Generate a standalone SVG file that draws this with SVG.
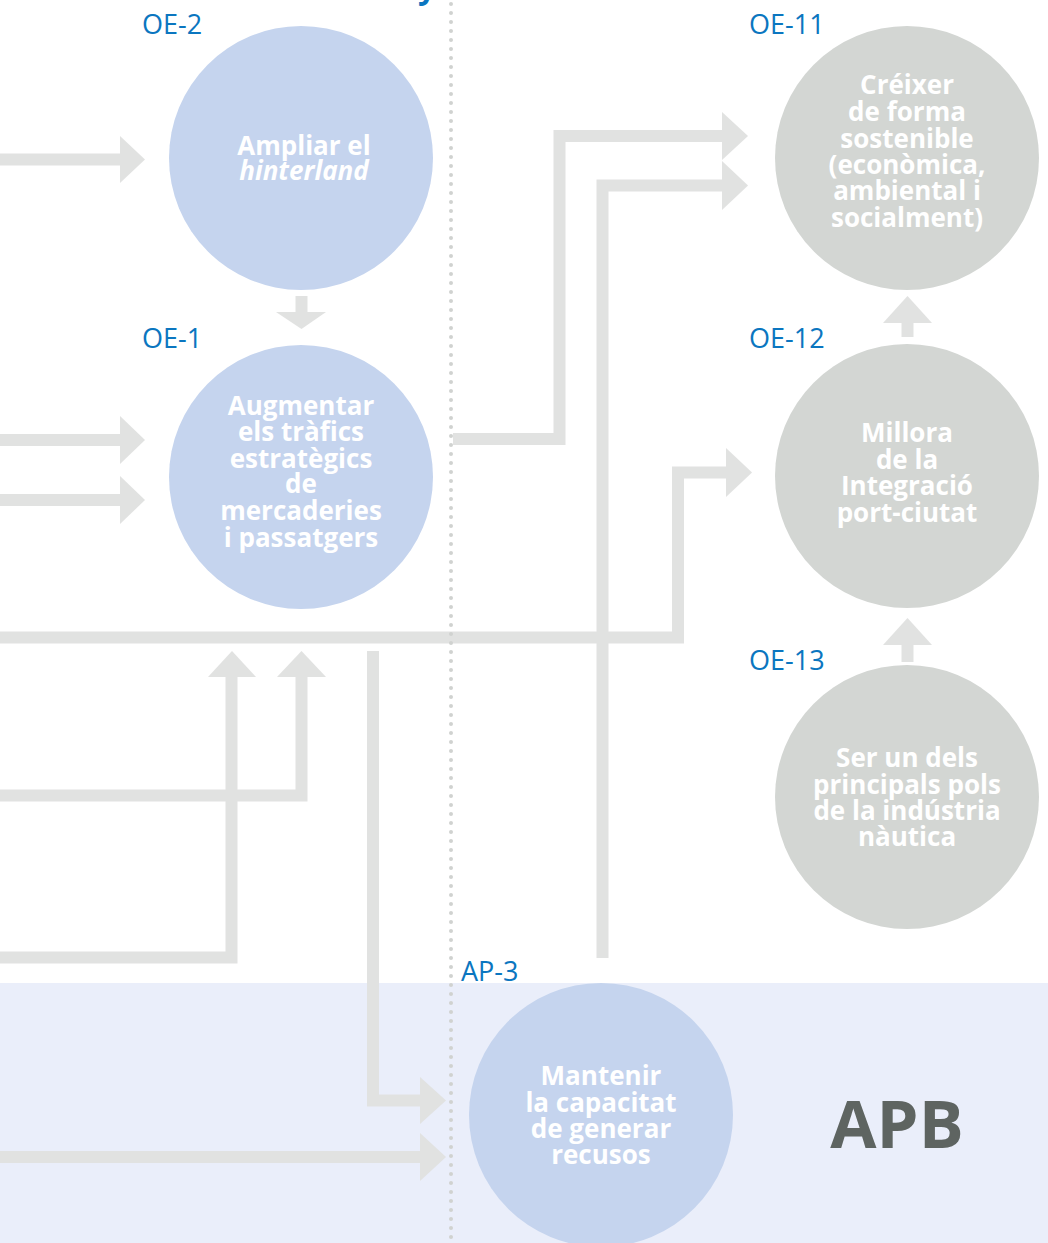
<svg xmlns="http://www.w3.org/2000/svg" width="1048" height="1243" viewBox="0 0 1048 1243">
<style>
.ln{fill:none;stroke:#e1e2e1;stroke-width:12;stroke-linejoin:miter;stroke-linecap:butt}
.hd{fill:#e1e2e1}
.cb{fill:#c5d4ee}
.cg{fill:#d3d6d3}
.lb{font-family:"Open Sans","Liberation Sans",sans-serif;font-size:27px;fill:#0b76c0}
.tx{font-family:"Open Sans","Liberation Sans",sans-serif;font-size:26px;font-weight:700;fill:#ffffff;text-anchor:middle}
.dot{fill:none;stroke:#d0d2d0;stroke-width:4;stroke-linecap:round;stroke-dasharray:0 9}
</style>
<rect x="0" y="0" width="1048" height="1243" fill="#ffffff"/>
<rect x="0" y="983" width="1048" height="260" fill="#eaeefa"/>
<text x="418" y="-2" font-family="Open Sans, Liberation Sans, sans-serif" font-size="32" font-weight="700" fill="#0b76c0">y</text>
<g id="connectors">
<polyline class="ln" points="0,159.5 121,159.5"/>
<polygon class="hd" points="120,136 145,159.5 120,183"/>
<polyline class="ln" points="0,440 121,440"/>
<polygon class="hd" points="120,416 145,440 120,464"/>
<polyline class="ln" points="0,500 121,500"/>
<polygon class="hd" points="120,476 145,500 120,524"/>
<polyline class="ln" points="301.5,296 301.5,313"/>
<polygon class="hd" points="276,312 326,312 301.5,329"/>
<polyline class="ln" points="0,795.5 301.5,795.5 301.5,676"/>
<polygon class="hd" points="277,677 301.5,651 326,677"/>
<polyline class="ln" points="0,957.5 231.5,957.5 231.5,676"/>
<polygon class="hd" points="208,677 232,651 256,677"/>
<polyline class="ln" points="0,637.5 678,637.5 678,472.5 727,472.5"/>
<polygon class="hd" points="726,448 752,472.5 726,497"/>
<polyline class="ln" points="453,439 559.5,439 559.5,136 723,136"/>
<polygon class="hd" points="722,112 748,136 722,160"/>
<polyline class="ln" points="602.5,958 602.5,185.5 723,185.5"/>
<polygon class="hd" points="722,161 748,185.5 722,210"/>
<polyline class="ln" points="373,651 373,1100.5 421,1100.5"/>
<polygon class="hd" points="420,1077 446,1100.5 420,1124"/>
<polyline class="ln" points="0,1157 421,1157"/>
<polygon class="hd" points="420,1133 446,1157 420,1181"/>
<polyline class="ln" points="907.5,337 907.5,322"/>
<polygon class="hd" points="883,323 907.5,296 932,323"/>
<polyline class="ln" points="907.5,662 907.5,644"/>
<polygon class="hd" points="883,645 907.5,618 932,645"/>
</g>
<line class="dot" x1="451" y1="4" x2="451" y2="1243"/>
<g id="OE-2">
<circle class="cb" cx="301" cy="158" r="132"/>
<text class="lb" x="142" y="34">OE-2</text>
<text class="tx" x="304" y="155">Ampliar el</text>
<text class="tx" x="304" y="180" font-style="italic">hinterland</text>
</g>
<g id="OE-1">
<circle class="cb" cx="301" cy="477" r="132"/>
<text class="lb" x="142" y="348">OE-1</text>
<text class="tx" x="301" y="415">Augmentar</text>
<text class="tx" x="301" y="441">els tràfics</text>
<text class="tx" x="301" y="468">estratègics</text>
<text class="tx" x="301" y="493">de</text>
<text class="tx" x="301" y="520">mercaderies</text>
<text class="tx" x="301" y="547">i passatgers</text>
</g>
<g id="OE-11">
<circle class="cg" cx="907" cy="158" r="132"/>
<text class="lb" x="749" y="34">OE-11</text>
<text class="tx" x="907" y="94">Créixer</text>
<text class="tx" x="907" y="121">de forma</text>
<text class="tx" x="907" y="148">sostenible</text>
<text class="tx" x="907" y="174">(econòmica,</text>
<text class="tx" x="907" y="200">ambiental i</text>
<text class="tx" x="907" y="227">socialment)</text>
</g>
<g id="OE-12">
<circle class="cg" cx="907" cy="476" r="132"/>
<text class="lb" x="749" y="348">OE-12</text>
<text class="tx" x="907" y="442">Millora</text>
<text class="tx" x="907" y="469">de la</text>
<text class="tx" x="907" y="495">Integració</text>
<text class="tx" x="907" y="522">port-ciutat</text>
</g>
<g id="OE-13">
<circle class="cg" cx="907" cy="797" r="132"/>
<text class="lb" x="749" y="670">OE-13</text>
<text class="tx" x="907" y="767">Ser un dels</text>
<text class="tx" x="907" y="794">principals pols</text>
<text class="tx" x="907" y="820">de la indústria</text>
<text class="tx" x="907" y="846">nàutica</text>
</g>
<g id="AP-3">
<circle class="cb" cx="601" cy="1115" r="132"/>
<text class="lb" x="461" y="981">AP-3</text>
<text class="tx" x="601" y="1085">Mantenir</text>
<text class="tx" x="601" y="1112">la capacitat</text>
<text class="tx" x="601" y="1138">de generar</text>
<text class="tx" x="601" y="1164">recusos</text>
</g>
<g id="APB">
<text x="897" y="1148" font-family="Open Sans, Liberation Sans, sans-serif" font-size="67" font-weight="700" fill="#5e6461" text-anchor="middle">APB</text>
</g>
</svg>
